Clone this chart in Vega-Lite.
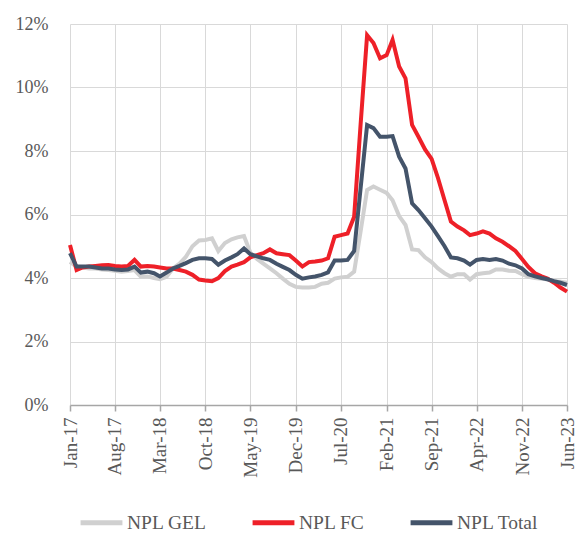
{
  "$schema": "https://vega.github.io/schema/vega-lite/v6.json",
  "width": 497,
  "height": 381,
  "autosize": {"type": "none"},
  "padding": {"left": 70, "top": 24, "right": 14, "bottom": 138},
  "background": "white",
  "config": {"view": {"stroke": null}, "font": "Liberation Serif"},
  "data": {"values": [
    {"d": "2017-01-01T00:00", "NPL GEL": 4.51, "NPL FC": 5.04, "NPL Total": 4.78},
    {"d": "2017-02-01T00:00", "NPL GEL": 4.36, "NPL FC": 4.25, "NPL Total": 4.36},
    {"d": "2017-03-01T00:00", "NPL GEL": 4.33, "NPL FC": 4.33, "NPL Total": 4.36},
    {"d": "2017-04-01T00:00", "NPL GEL": 4.30, "NPL FC": 4.36, "NPL Total": 4.36},
    {"d": "2017-05-01T00:00", "NPL GEL": 4.30, "NPL FC": 4.38, "NPL Total": 4.33},
    {"d": "2017-06-01T00:00", "NPL GEL": 4.27, "NPL FC": 4.40, "NPL Total": 4.30},
    {"d": "2017-07-01T00:00", "NPL GEL": 4.25, "NPL FC": 4.41, "NPL Total": 4.30},
    {"d": "2017-08-01T00:00", "NPL GEL": 4.23, "NPL FC": 4.38, "NPL Total": 4.27},
    {"d": "2017-09-01T00:00", "NPL GEL": 4.20, "NPL FC": 4.36, "NPL Total": 4.25},
    {"d": "2017-10-01T00:00", "NPL GEL": 4.22, "NPL FC": 4.38, "NPL Total": 4.27},
    {"d": "2017-11-01T00:00", "NPL GEL": 4.25, "NPL FC": 4.57, "NPL Total": 4.36},
    {"d": "2017-12-01T00:00", "NPL GEL": 4.04, "NPL FC": 4.36, "NPL Total": 4.17},
    {"d": "2018-01-01T00:00", "NPL GEL": 4.05, "NPL FC": 4.38, "NPL Total": 4.20},
    {"d": "2018-02-01T00:00", "NPL GEL": 4.00, "NPL FC": 4.36, "NPL Total": 4.15},
    {"d": "2018-03-01T00:00", "NPL GEL": 3.96, "NPL FC": 4.33, "NPL Total": 4.05},
    {"d": "2018-04-01T00:00", "NPL GEL": 4.04, "NPL FC": 4.30, "NPL Total": 4.17},
    {"d": "2018-05-01T00:00", "NPL GEL": 4.30, "NPL FC": 4.30, "NPL Total": 4.30},
    {"d": "2018-06-01T00:00", "NPL GEL": 4.45, "NPL FC": 4.25, "NPL Total": 4.38},
    {"d": "2018-07-01T00:00", "NPL GEL": 4.67, "NPL FC": 4.20, "NPL Total": 4.47},
    {"d": "2018-08-01T00:00", "NPL GEL": 5.00, "NPL FC": 4.10, "NPL Total": 4.57},
    {"d": "2018-09-01T00:00", "NPL GEL": 5.18, "NPL FC": 3.95, "NPL Total": 4.62},
    {"d": "2018-10-01T00:00", "NPL GEL": 5.20, "NPL FC": 3.92, "NPL Total": 4.62},
    {"d": "2018-11-01T00:00", "NPL GEL": 5.25, "NPL FC": 3.90, "NPL Total": 4.60},
    {"d": "2018-12-01T00:00", "NPL GEL": 4.85, "NPL FC": 4.00, "NPL Total": 4.42},
    {"d": "2019-01-01T00:00", "NPL GEL": 5.10, "NPL FC": 4.22, "NPL Total": 4.55},
    {"d": "2019-02-01T00:00", "NPL GEL": 5.22, "NPL FC": 4.36, "NPL Total": 4.65},
    {"d": "2019-03-01T00:00", "NPL GEL": 5.28, "NPL FC": 4.42, "NPL Total": 4.75},
    {"d": "2019-04-01T00:00", "NPL GEL": 5.32, "NPL FC": 4.50, "NPL Total": 4.93},
    {"d": "2019-05-01T00:00", "NPL GEL": 4.80, "NPL FC": 4.65, "NPL Total": 4.75},
    {"d": "2019-06-01T00:00", "NPL GEL": 4.60, "NPL FC": 4.72, "NPL Total": 4.68},
    {"d": "2019-07-01T00:00", "NPL GEL": 4.45, "NPL FC": 4.78, "NPL Total": 4.62},
    {"d": "2019-08-01T00:00", "NPL GEL": 4.30, "NPL FC": 4.90, "NPL Total": 4.57},
    {"d": "2019-09-01T00:00", "NPL GEL": 4.15, "NPL FC": 4.78, "NPL Total": 4.45},
    {"d": "2019-10-01T00:00", "NPL GEL": 3.98, "NPL FC": 4.75, "NPL Total": 4.35},
    {"d": "2019-11-01T00:00", "NPL GEL": 3.82, "NPL FC": 4.72, "NPL Total": 4.25},
    {"d": "2019-12-01T00:00", "NPL GEL": 3.72, "NPL FC": 4.55, "NPL Total": 4.10},
    {"d": "2020-01-01T00:00", "NPL GEL": 3.70, "NPL FC": 4.36, "NPL Total": 3.98},
    {"d": "2020-02-01T00:00", "NPL GEL": 3.70, "NPL FC": 4.50, "NPL Total": 4.02},
    {"d": "2020-03-01T00:00", "NPL GEL": 3.72, "NPL FC": 4.52, "NPL Total": 4.05},
    {"d": "2020-04-01T00:00", "NPL GEL": 3.82, "NPL FC": 4.55, "NPL Total": 4.10},
    {"d": "2020-05-01T00:00", "NPL GEL": 3.85, "NPL FC": 4.62, "NPL Total": 4.18},
    {"d": "2020-06-01T00:00", "NPL GEL": 3.98, "NPL FC": 5.30, "NPL Total": 4.55},
    {"d": "2020-07-01T00:00", "NPL GEL": 4.02, "NPL FC": 5.35, "NPL Total": 4.55},
    {"d": "2020-08-01T00:00", "NPL GEL": 4.04, "NPL FC": 5.40, "NPL Total": 4.57},
    {"d": "2020-09-01T00:00", "NPL GEL": 4.20, "NPL FC": 5.93, "NPL Total": 4.85},
    {"d": "2020-10-01T00:00", "NPL GEL": 5.45, "NPL FC": 8.80, "NPL Total": 6.80},
    {"d": "2020-11-01T00:00", "NPL GEL": 6.77, "NPL FC": 11.65, "NPL Total": 8.82},
    {"d": "2020-12-01T00:00", "NPL GEL": 6.88, "NPL FC": 11.40, "NPL Total": 8.72},
    {"d": "2021-01-01T00:00", "NPL GEL": 6.78, "NPL FC": 10.92, "NPL Total": 8.45},
    {"d": "2021-02-01T00:00", "NPL GEL": 6.68, "NPL FC": 11.02, "NPL Total": 8.45},
    {"d": "2021-03-01T00:00", "NPL GEL": 6.45, "NPL FC": 11.50, "NPL Total": 8.47},
    {"d": "2021-04-01T00:00", "NPL GEL": 5.95, "NPL FC": 10.66, "NPL Total": 7.82},
    {"d": "2021-05-01T00:00", "NPL GEL": 5.67, "NPL FC": 10.29, "NPL Total": 7.45},
    {"d": "2021-06-01T00:00", "NPL GEL": 4.90, "NPL FC": 8.82, "NPL Total": 6.35},
    {"d": "2021-07-01T00:00", "NPL GEL": 4.88, "NPL FC": 8.45, "NPL Total": 6.14},
    {"d": "2021-08-01T00:00", "NPL GEL": 4.65, "NPL FC": 8.05, "NPL Total": 5.88},
    {"d": "2021-09-01T00:00", "NPL GEL": 4.50, "NPL FC": 7.75, "NPL Total": 5.62},
    {"d": "2021-10-01T00:00", "NPL GEL": 4.30, "NPL FC": 7.15, "NPL Total": 5.32},
    {"d": "2021-11-01T00:00", "NPL GEL": 4.15, "NPL FC": 6.45, "NPL Total": 5.00},
    {"d": "2021-12-01T00:00", "NPL GEL": 4.04, "NPL FC": 5.78, "NPL Total": 4.65},
    {"d": "2022-01-01T00:00", "NPL GEL": 4.12, "NPL FC": 5.62, "NPL Total": 4.62},
    {"d": "2022-02-01T00:00", "NPL GEL": 4.12, "NPL FC": 5.50, "NPL Total": 4.55},
    {"d": "2022-03-01T00:00", "NPL GEL": 3.95, "NPL FC": 5.35, "NPL Total": 4.42},
    {"d": "2022-04-01T00:00", "NPL GEL": 4.12, "NPL FC": 5.40, "NPL Total": 4.57},
    {"d": "2022-05-01T00:00", "NPL GEL": 4.15, "NPL FC": 5.47, "NPL Total": 4.60},
    {"d": "2022-06-01T00:00", "NPL GEL": 4.17, "NPL FC": 5.40, "NPL Total": 4.57},
    {"d": "2022-07-01T00:00", "NPL GEL": 4.27, "NPL FC": 5.25, "NPL Total": 4.60},
    {"d": "2022-08-01T00:00", "NPL GEL": 4.27, "NPL FC": 5.14, "NPL Total": 4.55},
    {"d": "2022-09-01T00:00", "NPL GEL": 4.23, "NPL FC": 5.00, "NPL Total": 4.45},
    {"d": "2022-10-01T00:00", "NPL GEL": 4.22, "NPL FC": 4.85, "NPL Total": 4.40},
    {"d": "2022-11-01T00:00", "NPL GEL": 4.12, "NPL FC": 4.60, "NPL Total": 4.30},
    {"d": "2022-12-01T00:00", "NPL GEL": 4.04, "NPL FC": 4.35, "NPL Total": 4.12},
    {"d": "2023-01-01T00:00", "NPL GEL": 4.00, "NPL FC": 4.15, "NPL Total": 4.05},
    {"d": "2023-02-01T00:00", "NPL GEL": 3.98, "NPL FC": 4.05, "NPL Total": 4.00},
    {"d": "2023-03-01T00:00", "NPL GEL": 3.95, "NPL FC": 3.98, "NPL Total": 3.96},
    {"d": "2023-04-01T00:00", "NPL GEL": 3.90, "NPL FC": 3.85, "NPL Total": 3.90},
    {"d": "2023-05-01T00:00", "NPL GEL": 3.88, "NPL FC": 3.70, "NPL Total": 3.85},
    {"d": "2023-06-01T00:00", "NPL GEL": 3.85, "NPL FC": 3.57, "NPL Total": 3.78}
  ]},
  "transform": [{"fold": ["NPL GEL", "NPL FC", "NPL Total"], "as": ["series", "value"]}],
  "mark": {"type": "line", "strokeWidth": 4},
  "encoding": {
    "x": {
      "field": "d", "type": "temporal", "title": null,
      "scale": {"domain": [{"year": 2017, "month": 1, "date": 1}, {"year": 2023, "month": 6, "date": 1}]},
      "axis": {
        "values": [
          {"year": 2017, "month": 1, "date": 1}, {"year": 2017, "month": 8, "date": 1},
          {"year": 2018, "month": 3, "date": 1}, {"year": 2018, "month": 10, "date": 1},
          {"year": 2019, "month": 5, "date": 1}, {"year": 2019, "month": 12, "date": 1},
          {"year": 2020, "month": 7, "date": 1}, {"year": 2021, "month": 2, "date": 1},
          {"year": 2021, "month": 9, "date": 1}, {"year": 2022, "month": 4, "date": 1},
          {"year": 2022, "month": 11, "date": 1}, {"year": 2023, "month": 6, "date": 1}
        ],
        "format": "%b-%y",
        "labelAngle": 270, "labelAlign": "right", "labelBaseline": "middle",
        "labelFontSize": 19, "labelColor": "#595959", "labelPadding": 6,
        "labelFont": "Liberation Serif", "labelOverlap": false, "labelBound": false, "labelFlush": false,
        "domainColor": "#A6A6A6", "domainWidth": 1.5, "tickColor": "#A6A6A6", "tickSize": 6, "tickWidth": 1.5,
        "grid": true, "gridColor": "#D9D9D9", "gridWidth": 1
      }
    },
    "y": {
      "field": "value", "type": "quantitative", "title": null,
      "scale": {"domain": [0, 12], "nice": false},
      "axis": {
        "values": [0, 2, 4, 6, 8, 10, 12],
        "labelExpr": "datum.value + '%'",
        "domain": false, "ticks": false, "labelPadding": 22,
        "labelFontSize": 18, "labelColor": "#595959", "labelFont": "Liberation Serif",
        "grid": true, "gridColor": "#D9D9D9", "gridWidth": 1
      }
    },
    "color": {
      "field": "series", "type": "nominal",
      "scale": {"domain": ["NPL GEL", "NPL FC", "NPL Total"], "range": ["#D0D0D0", "#EE2028", "#44546A"]},
      "legend": {
        "title": null, "orient": "bottom", "direction": "horizontal",
        "symbolType": "stroke", "symbolSize": 1750, "symbolStrokeWidth": 5,
        "labelFontSize": 19.5, "labelColor": "#595959", "labelFont": "Liberation Serif",
        "columnPadding": 35, "labelOffset": 2, "offset": 13, "padding": 8
      }
    }
  }
}
